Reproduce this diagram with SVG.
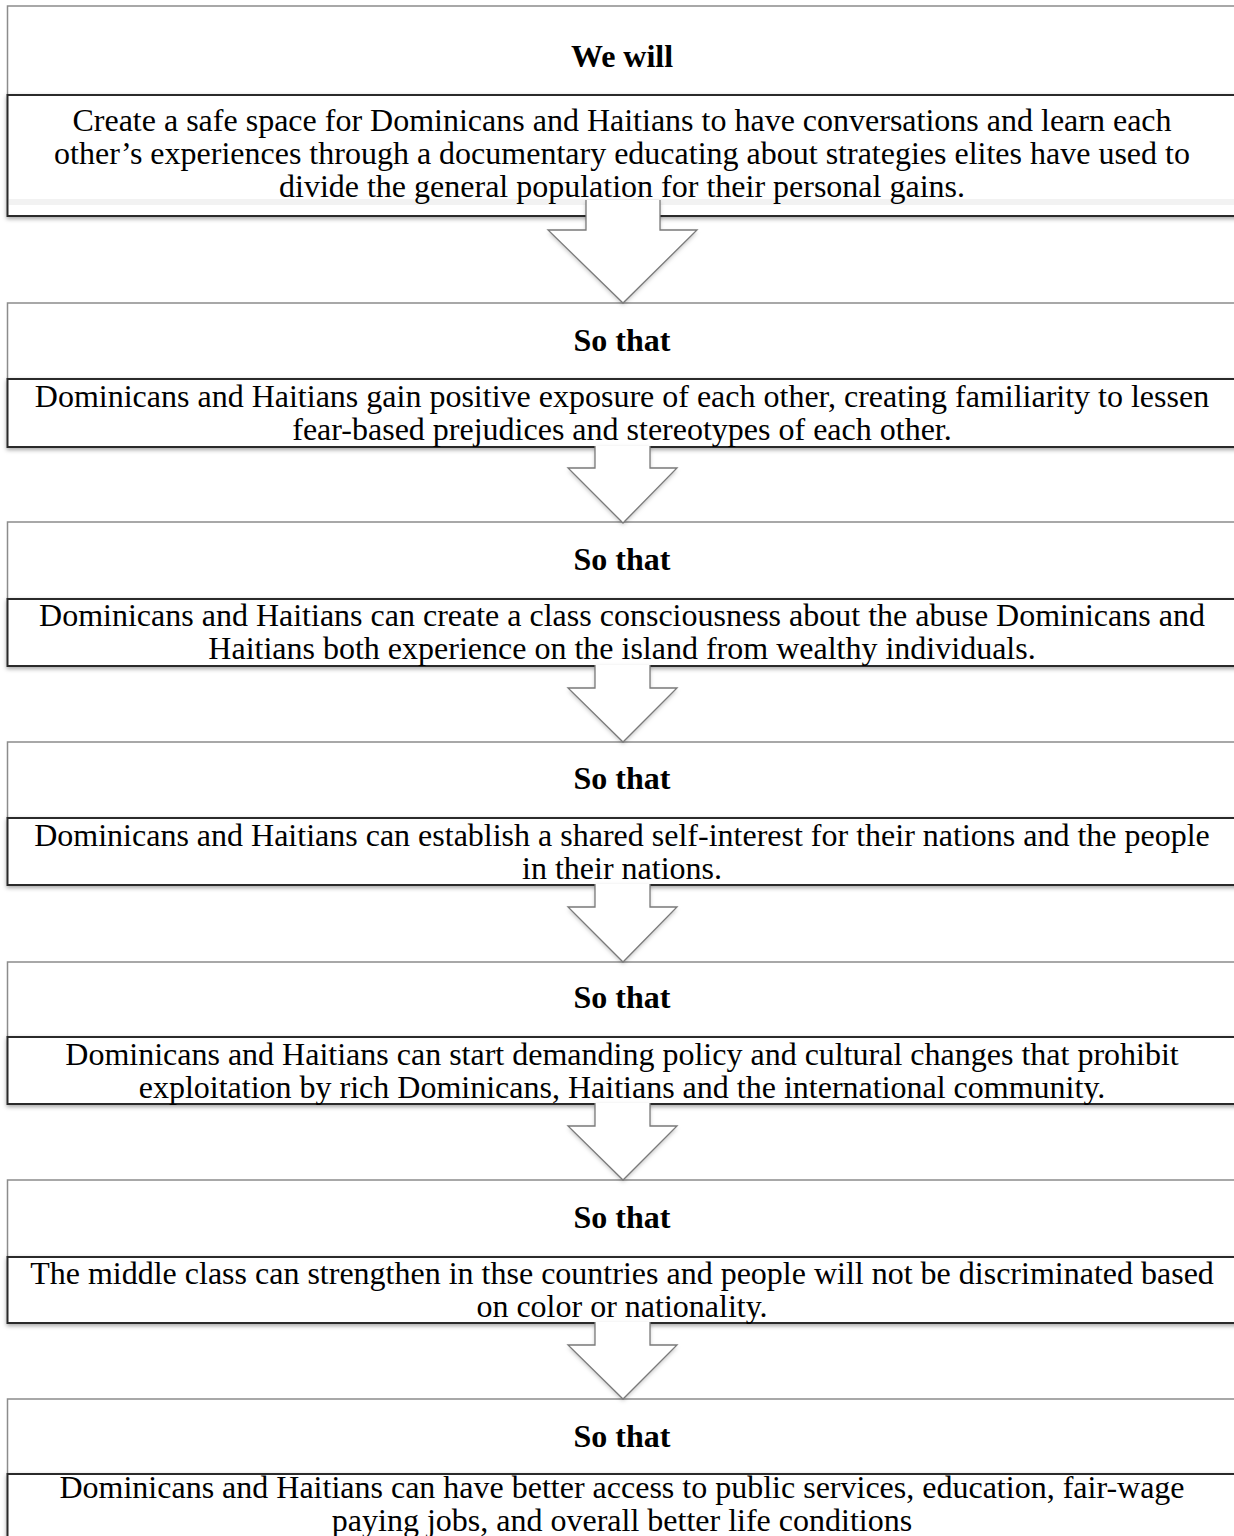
<svg xmlns="http://www.w3.org/2000/svg" width="1234" height="1536" viewBox="0 0 1234 1536">
<defs>
<filter id="sh" x="-5%" y="-20%" width="110%" height="150%">
<feDropShadow dx="0" dy="2" stdDeviation="2" flood-color="#000" flood-opacity="0.35"/>
</filter>
<filter id="ash" x="-20%" y="-20%" width="140%" height="150%">
<feDropShadow dx="0" dy="2" stdDeviation="2" flood-color="#000" flood-opacity="0.25"/>
</filter>
<style>
.hd{fill:#fff;stroke:#8c8c8c;stroke-width:1.5}
.bd{fill:#fff;stroke:#2b2b2b;stroke-width:2}
.af{fill:#fff;stroke:none}
.ar{fill:none;stroke:#7a7a7a;stroke-width:1.3;stroke-linejoin:miter}
.t{font-family:"Liberation Serif","Times New Roman",serif;font-size:32px;fill:#000;text-anchor:middle}
.b{font-weight:bold}
</style>
</defs>
<rect width="1234" height="1536" fill="#fff"/>

<g id="n1">
<rect class="hd" x="7.5" y="6" width="1240" height="89"/>
<rect class="bd" x="7.5" y="95" width="1240" height="121" filter="url(#sh)"/>
<rect x="9" y="199" width="1230" height="6" fill="#f2f2f2"/>
<text class="t b" x="622" y="67">We will</text>
<text class="t" x="622" y="131">Create a safe space for Dominicans and Haitians to have conversations and learn each</text>
<text class="t" x="622" y="164">other’s experiences through a documentary educating about strategies elites have used to</text>
<text class="t" x="622" y="197">divide the general population for their personal gains.</text>
</g>

<g id="n2">
<rect class="hd" x="7.5" y="303" width="1240" height="76"/>
<rect class="bd" x="7.5" y="379" width="1240" height="68" filter="url(#sh)"/>
<text class="t b" x="622" y="351">So that</text>
<text class="t" x="622" y="407">Dominicans and Haitians gain positive exposure of each other, creating familiarity to lessen</text>
<text class="t" x="622" y="440">fear-based prejudices and stereotypes of each other.</text>
</g>

<g id="n3">
<rect class="hd" x="7.5" y="522" width="1240" height="77"/>
<rect class="bd" x="7.5" y="599" width="1240" height="67" filter="url(#sh)"/>
<text class="t b" x="622" y="570">So that</text>
<text class="t" x="622" y="626">Dominicans and Haitians can create a class consciousness about the abuse Dominicans and</text>
<text class="t" x="622" y="659">Haitians both experience on the island from wealthy individuals.</text>
</g>

<g id="n4">
<rect class="hd" x="7.5" y="742" width="1240" height="76"/>
<rect class="bd" x="7.5" y="818" width="1240" height="67" filter="url(#sh)"/>
<text class="t b" x="622" y="789">So that</text>
<text class="t" x="622" y="846">Dominicans and Haitians can establish a shared self-interest for their nations and the people</text>
<text class="t" x="622" y="879">in their nations.</text>
</g>

<g id="n5">
<rect class="hd" x="7.5" y="962" width="1240" height="75"/>
<rect class="bd" x="7.5" y="1037" width="1240" height="67" filter="url(#sh)"/>
<text class="t b" x="622" y="1008">So that</text>
<text class="t" x="622" y="1065">Dominicans and Haitians can start demanding policy and cultural changes that prohibit</text>
<text class="t" x="622" y="1098">exploitation by rich Dominicans, Haitians and the international community.</text>
</g>

<g id="n6">
<rect class="hd" x="7.5" y="1180" width="1240" height="77"/>
<rect class="bd" x="7.5" y="1257" width="1240" height="66" filter="url(#sh)"/>
<text class="t b" x="622" y="1228">So that</text>
<text class="t" x="622" y="1284">The middle class can strengthen in thse countries and people will not be discriminated based</text>
<text class="t" x="622" y="1317">on color or nationality.</text>
</g>

<g id="n7">
<rect class="hd" x="7.5" y="1399" width="1240" height="75"/>
<rect class="bd" x="7.5" y="1474" width="1240" height="80" filter="url(#sh)"/>
<text class="t b" x="622" y="1447">So that</text>
<text class="t" x="622" y="1498">Dominicans and Haitians can have better access to public services, education, fair-wage</text>
<text class="t" x="622" y="1531">paying jobs, and overall better life conditions</text>
</g>

<g id="connectors">
<g filter="url(#ash)">
<path class="af" d="M586,200 L660,200 L660,230 L697,230 L623,303 L548,230 L586,230 Z"/>
<path class="af" d="M595,446 L650,446 L650,468 L677,468 L623,523 L568,468 L595,468 Z"/>
<path class="af" d="M595,665 L650,665 L650,688 L677,688 L623,742 L568,688 L595,688 Z"/>
<path class="af" d="M595,884 L650,884 L650,907 L677,907 L623,962 L568,907 L595,907 Z"/>
<path class="af" d="M595,1103 L650,1103 L650,1126 L677,1126 L623,1180 L568,1126 L595,1126 Z"/>
<path class="af" d="M595,1322 L650,1322 L650,1345 L677,1345 L623,1399 L568,1345 L595,1345 Z"/>
</g>
<path class="ar" d="M660,200 L660,230 L697,230 L623,303 L548,230 L586,230 L586,200"/>
<path class="ar" d="M650,446 L650,468 L677,468 L623,523 L568,468 L595,468 L595,446"/>
<path class="ar" d="M650,665 L650,688 L677,688 L623,742 L568,688 L595,688 L595,665"/>
<path class="ar" d="M650,884 L650,907 L677,907 L623,962 L568,907 L595,907 L595,884"/>
<path class="ar" d="M650,1103 L650,1126 L677,1126 L623,1180 L568,1126 L595,1126 L595,1103"/>
<path class="ar" d="M650,1322 L650,1345 L677,1345 L623,1399 L568,1345 L595,1345 L595,1322"/>
</g>
</svg>
